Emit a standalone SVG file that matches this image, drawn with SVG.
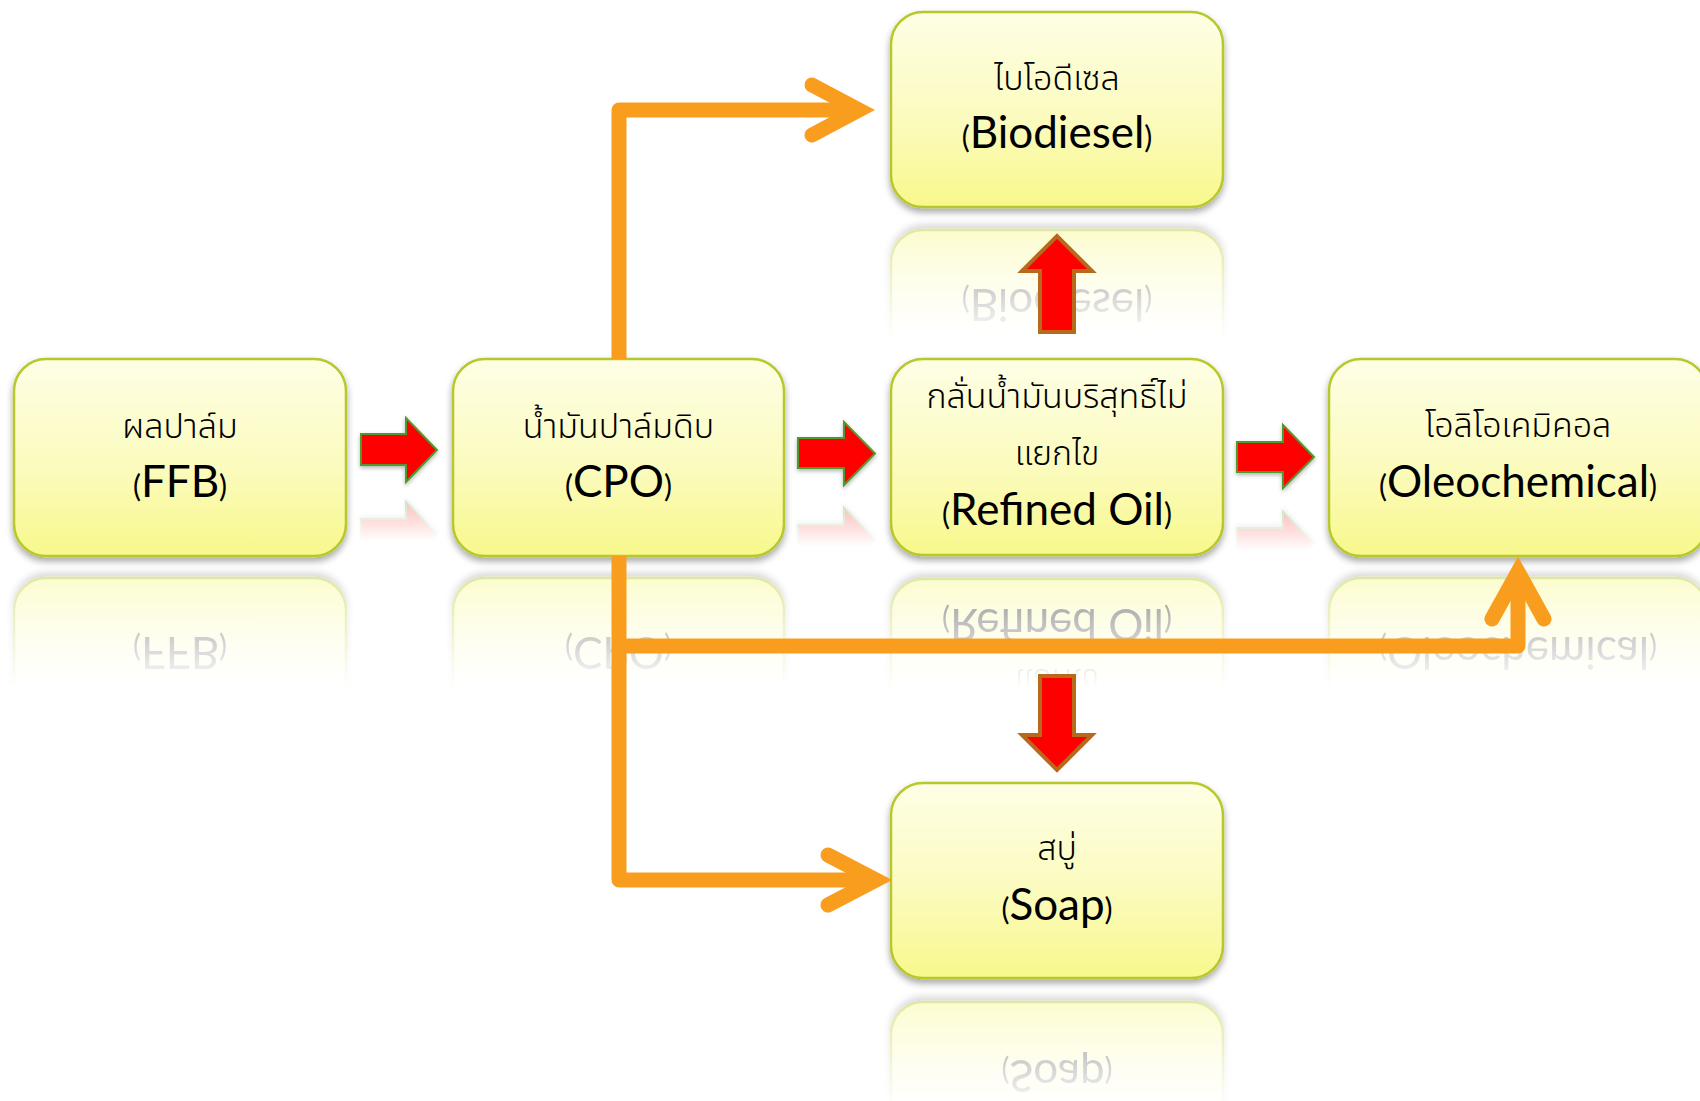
<svg xmlns="http://www.w3.org/2000/svg" xmlns:xlink="http://www.w3.org/1999/xlink" width="1700" height="1101" viewBox="0 0 1700 1101">
<style>
.box{fill:url(#boxFill);stroke:#b6c82a;stroke-width:2.5;filter:url(#shadow)}
.th{font-family:"Noto Sans Thai","Noto Sans Thai Looped","Leelawadee UI","Tahoma","Noto Sans",sans-serif;font-size:34px;font-weight:300;fill:#000;text-anchor:middle}
.en{font-family:Lato,"Open Sans","Liberation Sans",sans-serif;font-size:44px;fill:#000;text-anchor:middle}
.p{font-size:30px}
.red{fill:#ff0000;stroke:#4f9a2c;stroke-width:2;filter:url(#ashadow)}
.redv{fill:#ff0000;stroke:#b8691c;stroke-width:4}
.or{fill:none;stroke:#f99d1f;stroke-width:15;stroke-linejoin:round;stroke-linecap:butt}
.orh{fill:none;stroke:#f99d1f;stroke-width:15;stroke-linejoin:miter;stroke-linecap:round}
</style>
<defs>
<linearGradient id="boxFill" x1="0" y1="0" x2="0" y2="1">
<stop offset="0" stop-color="#fefee6"/>
<stop offset="0.55" stop-color="#fbfbbe"/>
<stop offset="1" stop-color="#f8f88c"/>
</linearGradient>
<filter id="shadow" x="-10%" y="-10%" width="120%" height="130%">
<feDropShadow dx="0" dy="4" stdDeviation="3.5" flood-color="#000" flood-opacity="0.35"/>
</filter>
<filter id="ashadow" x="-20%" y="-20%" width="140%" height="150%">
<feDropShadow dx="0" dy="2" stdDeviation="2" flood-color="#000" flood-opacity="0.3"/>
</filter>
<linearGradient id="reflGrad" x1="0" y1="0" x2="0" y2="1">
<stop offset="0" stop-color="#fff" stop-opacity="0.5"/>
<stop offset="0.55" stop-color="#fff" stop-opacity="0"/>
</linearGradient>
<mask id="reflMask" maskContentUnits="objectBoundingBox">
<rect x="-0.1" y="-0.1" width="1.2" height="1.2" fill="url(#reflGrad)"/>
</mask>
<linearGradient id="reflGradA" x1="0" y1="0" x2="0" y2="1">
<stop offset="0" stop-color="#fff" stop-opacity="0.3"/>
<stop offset="0.6" stop-color="#fff" stop-opacity="0"/>
</linearGradient>
<mask id="reflMaskA" maskContentUnits="objectBoundingBox">
<rect x="-0.1" y="-0.1" width="1.2" height="1.2" fill="url(#reflGradA)"/>
</mask>
</defs>
<rect width="1700" height="1101" fill="#fff"/>

<g id="ffb">
<g id="ffb-main">
<rect class="box" x="14" y="359" width="332" height="197" rx="32"/>
<text class="th" x="180" y="438">ผลปาล์ม</text>
<text class="en" x="180" y="497"><tspan class="p">(</tspan>FFB<tspan class="p">)</tspan></text>
</g>
<g mask="url(#reflMask)"><use xlink:href="#ffb-main" transform="translate(0,1134) scale(1,-1)"/></g>
</g>

<g id="cpo">
<g id="cpo-main">
<rect class="box" x="453" y="359" width="331" height="197" rx="32"/>
<text class="th" x="618.5" y="438">น้ำมันปาล์มดิบ</text>
<text class="en" x="618.5" y="497"><tspan class="p">(</tspan>CPO<tspan class="p">)</tspan></text>
</g>
<g mask="url(#reflMask)"><use xlink:href="#cpo-main" transform="translate(0,1134) scale(1,-1)"/></g>
</g>

<g id="biodiesel">
<g id="bio-main">
<rect class="box" x="891" y="12" width="332" height="195" rx="32"/>
<text class="th" x="1057" y="90">ไบโอดีเซล</text>
<text class="en" x="1057" y="148"><tspan class="p">(</tspan>Biodiesel<tspan class="p">)</tspan></text>
</g>
<g mask="url(#reflMask)"><use xlink:href="#bio-main" transform="translate(0,437) scale(1,-1)"/></g>
</g>

<g id="refined">
<g id="ref-main">
<rect class="box" x="891" y="359" width="332" height="196" rx="32"/>
<text class="th" x="1057" y="408">กลั่นน้ำมันบริสุทธิ์ไม่</text>
<text class="th" x="1057" y="465">แยกไข</text>
<text class="en" x="1057" y="525"><tspan class="p">(</tspan>Refined Oil<tspan class="p">)</tspan></text>
</g>
<g mask="url(#reflMask)"><use xlink:href="#ref-main" transform="translate(0,1134) scale(1,-1)"/></g>
</g>

<g id="oleochemical">
<g id="ole-main">
<rect class="box" x="1329" y="359" width="378" height="197" rx="32"/>
<text class="th" x="1518" y="437">โอลิโอเคมิคอล</text>
<text class="en" x="1518" y="497"><tspan class="p">(</tspan>Oleochemical<tspan class="p">)</tspan></text>
</g>
<g mask="url(#reflMask)"><use xlink:href="#ole-main" transform="translate(0,1134) scale(1,-1)"/></g>
</g>

<g id="soap">
<g id="soap-main">
<rect class="box" x="891" y="783" width="332" height="195" rx="32"/>
<text class="th" x="1057" y="860">สบู่</text>
<text class="en" x="1057" y="920"><tspan class="p">(</tspan>Soap<tspan class="p">)</tspan></text>
</g>
<g mask="url(#reflMask)"><use xlink:href="#soap-main" transform="translate(0,1980) scale(1,-1)"/></g>
</g>

<g id="connectors">
<g id="red-arrows">
<path id="a1" class="red" d="M361,434 H406 V418 L437,450 L406,482 V465 H361 Z"/>
<g mask="url(#reflMaskA)"><use xlink:href="#a1" transform="translate(0,984) scale(1,-1)"/></g>
<path id="a2" class="red" d="M798,438 H844 V422 L875,453.5 L844,485 V468 H798 Z"/>
<g mask="url(#reflMaskA)"><use xlink:href="#a2" transform="translate(0,993) scale(1,-1)"/></g>
<path id="a3" class="red" d="M1237,442 H1283 V425 L1314,457 L1283,488 V472 H1237 Z"/>
<g mask="url(#reflMaskA)"><use xlink:href="#a3" transform="translate(0,1000) scale(1,-1)"/></g>
<path class="redv" d="M1040,332 V271 H1022 L1057,236 L1092,271 H1074 V332 Z"/>
<path class="redv" d="M1040,676 V735 H1022 L1057,770 L1092,735 H1074 V676 Z"/>
</g>
<g id="orange-arrows">
<path class="or" d="M619,359 V110 H860"/>
<polyline class="orh" points="812,85 859,110 812,135"/>
<path class="or" d="M619,556 V880 H876"/>
<polyline class="orh" points="828,855 876,880 828,905"/>
<path class="or" d="M619,646 H1518 V572"/>
<polyline class="orh" points="1492,619 1518,572 1544,619"/>
</g>
</g>
</svg>
